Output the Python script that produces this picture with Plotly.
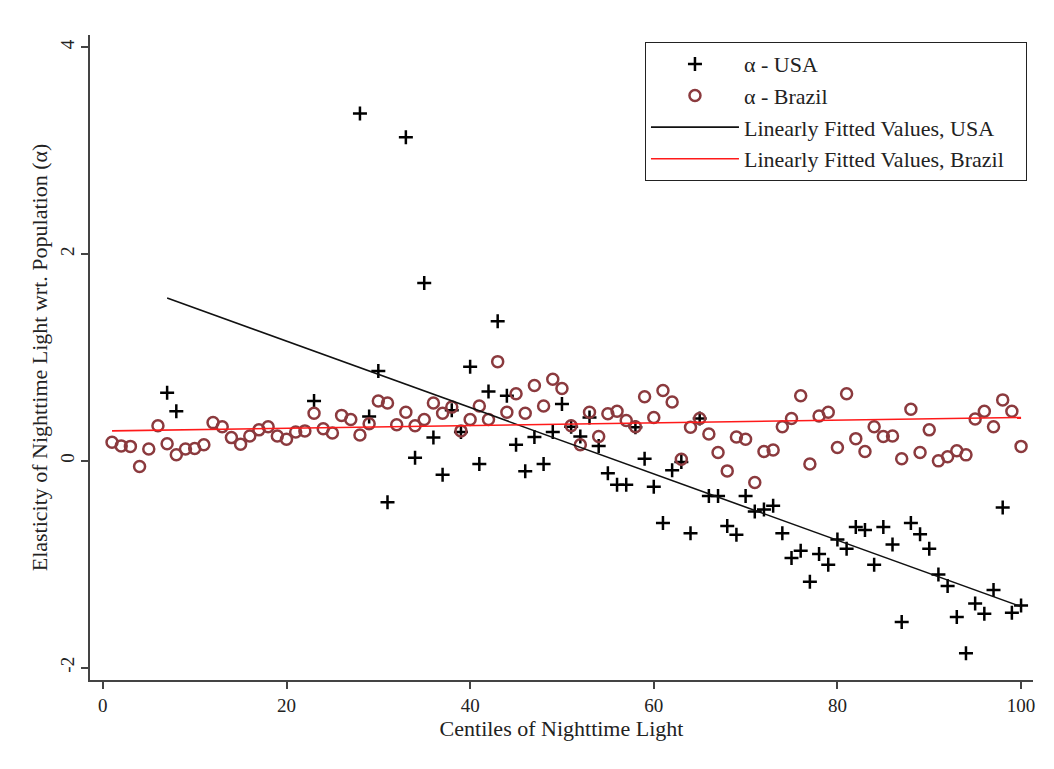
import plotly.graph_objects as go

# ---- data ----
usa_x = [7, 8, 23, 28, 29, 30, 31, 33, 34, 35, 36, 37, 38, 39, 40, 41, 42, 43, 44, 45,
         46, 47, 48, 49, 50, 51, 52, 53, 54, 55, 56, 57, 58, 59, 60, 61, 62, 63, 64, 65,
         66, 67, 68, 69, 70, 71, 72, 73, 74, 75, 76, 77, 78, 79, 80, 81, 82, 83, 84, 85,
         86, 87, 88, 89, 90, 91, 92, 93, 94, 95, 96, 97, 98, 99, 100]
usa_y = [0.66, 0.48, 0.58, 3.36, 0.43, 0.87, -0.40, 3.13, 0.03, 1.72, 0.225, -0.135, 0.49, 0.28, 0.91,
         -0.03, 0.67, 1.35, 0.63, 0.155, -0.10, 0.23, -0.03, 0.28, 0.55, 0.33, 0.235, 0.42, 0.145, -0.12,
         -0.23, -0.23, 0.325, 0.02, -0.25, -0.60, -0.09, -0.01, -0.70, 0.41, -0.34, -0.34, -0.63, -0.715,
         -0.34, -0.49, -0.47, -0.435, -0.70, -0.94, -0.87, -1.17, -0.90, -1.005, -0.76, -0.85, -0.64,
         -0.67, -1.005, -0.64, -0.81, -1.56, -0.60, -0.71, -0.85, -1.10, -1.21, -1.51, -1.86, -1.38,
         -1.48, -1.25, -0.45, -1.47, -1.40]

brazil_x = list(range(1, 101))
brazil_y = [0.18, 0.145, 0.14, -0.055, 0.115, 0.34, 0.165, 0.06, 0.115, 0.12,
            0.155, 0.37, 0.33, 0.225, 0.16, 0.24, 0.30, 0.33, 0.24, 0.21,
            0.28, 0.29, 0.46, 0.31, 0.27, 0.44, 0.40, 0.25, 0.36, 0.58,
            0.56, 0.35, 0.47, 0.34, 0.40, 0.56, 0.46, 0.52, 0.29, 0.40,
            0.53, 0.40, 0.96, 0.47, 0.65, 0.46, 0.73, 0.53, 0.79, 0.70,
            0.34, 0.155, 0.47, 0.235, 0.455, 0.48, 0.39, 0.33, 0.62, 0.42,
            0.68, 0.57, 0.015, 0.325, 0.41, 0.26, 0.08, -0.097, 0.23, 0.21,
            -0.21, 0.09, 0.106, 0.33, 0.41, 0.63, -0.03, 0.435, 0.47, 0.13,
            0.65, 0.215, 0.09, 0.33, 0.235, 0.24, 0.02, 0.50, 0.08, 0.30,
            0.0, 0.04, 0.097, 0.058, 0.405, 0.48, 0.33, 0.59, 0.48, 0.14]

usa_fit_x = [7, 100]
usa_fit_y = [1.575, -1.41]
brazil_fit_x = [1, 100]
brazil_fit_y = [0.29, 0.42]

x_ticks = [0, 20, 40, 60, 80, 100]
y_ticks = [-2, 0, 2, 4]
y_tick_text = ["-2", "0", "2", "4"]

FONT = "Liberation Serif"
TXT = "#222222"
BRAZIL_COL = "#8b3a3e"
PAD = "\u00a0\u00a0\u00a0"

fig = go.Figure()
fig.add_trace(go.Scatter(
    x=usa_x, y=usa_y, mode="markers", name="α - USA", legendgroup="a",
    marker=dict(symbol="cross-thin", size=10, color="black",
                line=dict(color="black", width=2.5))))
fig.add_trace(go.Scatter(
    x=brazil_x, y=brazil_y, mode="markers", name="α - Brazil", legendgroup="b",
    marker=dict(symbol="circle-open", size=11, color=BRAZIL_COL,
                line=dict(color=BRAZIL_COL, width=2.5))))
fig.add_trace(go.Scatter(
    x=usa_fit_x, y=usa_fit_y, mode="lines", name="Linearly Fitted Values, USA",
    legendgroup="c", line=dict(color="#111111", width=1.6)))
fig.add_trace(go.Scatter(
    x=brazil_fit_x, y=brazil_fit_y, mode="lines", name="Linearly Fitted Values, Brazil" + PAD,
    legendgroup="d", line=dict(color="#ff1a1a", width=1.6)))

fig.update_layout(
    width=1054, height=769,
    margin=dict(l=82, r=29, t=27, b=97),
    paper_bgcolor="white", plot_bgcolor="white",
    font=dict(family=FONT, size=22, color=TXT),
    showlegend=True,
    legend=dict(
        x=0.9936, y=0.989, xanchor="right", yanchor="top",
        bgcolor="white", bordercolor=TXT, borderwidth=1,
        font=dict(family=FONT, size=22, color=TXT),
        itemwidth=88, tracegroupgap=4, traceorder="normal",
    ),
    xaxis=dict(
        range=[-1.4, 101.3], tickvals=x_ticks, ticks="outside", ticklen=7,
        tickwidth=1.5, tickcolor="#444444", showline=True, linecolor="#444444",
        linewidth=1.5, showgrid=False, zeroline=False, automargin=False,
        title=dict(text="Centiles of Nighttime Light", standoff=4,
                   font=dict(family=FONT, size=22, color=TXT)),
        tickfont=dict(family=FONT, size=19, color=TXT),
    ),
    yaxis=dict(
        range=[-2.12, 4.12], tickvals=y_ticks, ticktext=y_tick_text,
        ticks="outside", ticklen=7,
        tickwidth=1.5, tickcolor="#444444", showline=True, linecolor="#444444",
        linewidth=1.5, showgrid=False, zeroline=False, tickangle=-90, automargin=False,
        title=dict(text="Elasticity of Nighttime Light wrt. Population (α)", standoff=3,
                   font=dict(family=FONT, size=22, color=TXT)),
        tickfont=dict(family=FONT, size=19, color=TXT),
    ),
)

fig.write_html("out.html")
